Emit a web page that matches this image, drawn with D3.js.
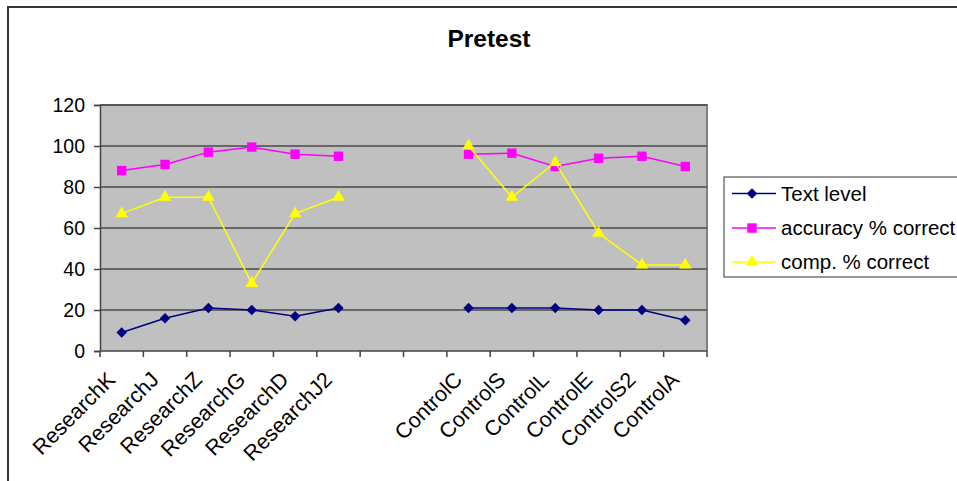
<!DOCTYPE html>
<html><head><meta charset="utf-8">
<script src="https://cdnjs.cloudflare.com/ajax/libs/d3/7.8.5/d3.min.js"></script>
<style>body{margin:0;background:#fff}svg{display:block;font-family:"Liberation Sans",Arial,sans-serif}</style>
</head><body><svg id="c" width="957" height="481"></svg>
<script>
const categories = ["ResearchK","ResearchJ","ResearchZ","ResearchG","ResearchD","ResearchJ2","","  ","ControlC","ControlS","ControlL","ControlE","ControlS2","ControlA"];
const textLevel = [9,16,21,20,17,21,null,null,21,21,21,20,20,15];
const accuracy = [88,91,97,99.5,96,95,null,null,96,96.5,90,94,95,90];
const comp = [67,75,75,33,67,75,null,null,100,75,92,57.5,42,42];
const yTicks = [0,20,40,60,80,100,120];
const seriesNames = ["Text level","accuracy % correct","comp. % correct"];

const diamond = {draw(ctx, size){ const r = Math.sqrt(size/2); ctx.moveTo(0,-r); ctx.lineTo(r,0); ctx.lineTo(0,r); ctx.lineTo(-r,0); ctx.closePath(); }};

const series = [
  {name: seriesNames[0], values: textLevel, color: "#000080", sym: diamond, size: 55},
  {name: seriesNames[1], values: accuracy, color: "#ff00ff", sym: d3.symbolSquare, size: 88},
  {name: seriesNames[2], values: comp, color: "#ffff00", sym: d3.symbolTriangle, size: 68}
];

const svg = d3.select("#c");
const L = 100, R = 707, T = 105, B = 351;

svg.append("path").attr("d", "M8,490 L8,7 L970,7").attr("fill","none").attr("stroke","#333").attr("stroke-width",2);

svg.append("text").attr("x",489).attr("y",47).attr("text-anchor","middle")
  .attr("font-size",24.5).attr("font-weight","bold").text("Pretest");

const x = d3.scaleBand().domain(categories).range([L,R]).paddingInner(0).paddingOuter(0);
const y = d3.scaleLinear().domain([0,120]).range([B,T]);

svg.append("rect").attr("x",L).attr("y",T).attr("width",R-L).attr("height",B-T).attr("fill","#c0c0c0");
svg.append("path").attr("d",`M${L},${T} L${R},${T} L${R},${B}`).attr("fill","none").attr("stroke","#808080").attr("stroke-width",2);

svg.append("g").selectAll("line").data(yTicks.filter(d=>d>0)).join("line")
  .attr("x1",L).attr("x2",R).attr("y1",d=>y(d)).attr("y2",d=>y(d))
  .attr("stroke","#4a4a4a").attr("stroke-width",1.6);

const ya = svg.append("g").attr("transform",`translate(${L},0)`)
  .call(d3.axisLeft(y).tickValues(yTicks).tickSize(6).tickPadding(9));
ya.select(".domain").attr("stroke","#444").attr("stroke-width",1.5);
ya.selectAll(".tick line").attr("stroke","#444").attr("stroke-width",1.5);
ya.selectAll("text").attr("font-size",19.5).attr("fill","#000").attr("font-family","Liberation Sans, Arial, sans-serif");

const xa = svg.append("g").attr("transform",`translate(0,${B})`);
xa.append("line").attr("x1",L).attr("x2",R).attr("stroke","#444").attr("stroke-width",1.5);
const bounds = categories.map((c)=>x(c)).concat([R]);
xa.selectAll("line.tk").data(bounds).join("line").attr("class","tk")
  .attr("x1",d=>d).attr("x2",d=>d).attr("y1",0).attr("y2",6).attr("stroke","#444").attr("stroke-width",1.5);
xa.selectAll("text").data(categories.filter(c=>c.trim()!=="")).join("text")
  .attr("font-size",21.5).attr("text-anchor","end")
  .attr("transform",d=>`translate(${x(d)+x.bandwidth()/2-5},${30}) rotate(-45)`)
  .text(d=>d);

const cx = d=>x(categories[d])+x.bandwidth()/2;
series.forEach(s=>{
  const line = d3.line().defined(d=>d!=null).x((d,i)=>cx(i)).y(d=>y(d));
  svg.append("path").datum(s.values).attr("d",line).attr("fill","none").attr("stroke",s.color).attr("stroke-width",1.5);
  svg.append("g").selectAll("path").data(s.values.map((v,i)=>({v,i})).filter(d=>d.v!=null)).join("path")
    .attr("d",d3.symbol().type(s.sym).size(s.size))
    .attr("transform",d=>`translate(${cx(d.i)},${y(d.v)})`)
    .attr("fill",s.color);
});

const lg = svg.append("g");
lg.append("rect").attr("x",724).attr("y",177).attr("width",260).attr("height",100).attr("fill","#fff").attr("stroke","#333").attr("stroke-width",1);
const rowsY = [193.5,228,262];
series.forEach((s,i)=>{
  lg.append("line").attr("x1",732).attr("x2",776).attr("y1",rowsY[i]).attr("y2",rowsY[i]).attr("stroke",s.color).attr("stroke-width",1.5);
  lg.append("path").attr("d",d3.symbol().type(s.sym).size(s.size)).attr("transform",`translate(752,${rowsY[i]})`).attr("fill",s.color);
  lg.append("text").attr("x",781).attr("y",rowsY[i]+7).attr("font-size",20.5).text(s.name);
});
</script></body></html>
